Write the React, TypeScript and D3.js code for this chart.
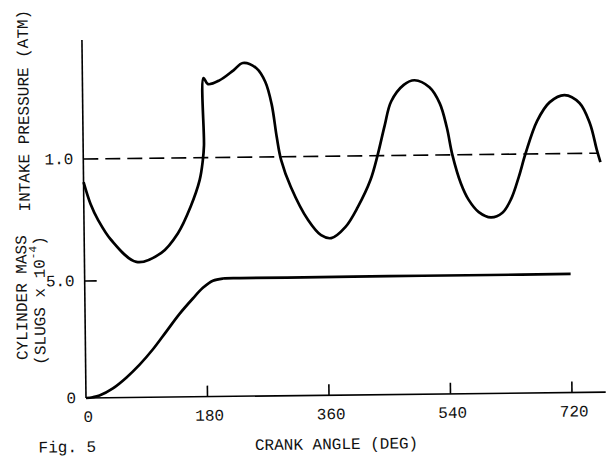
import React from "react";
import * as d3 from "d3";

// Intake pressure (ATM) vs crank angle (deg)
const pressureAngle = [0, 10, 21, 40, 77, 114, 139, 158, 172, 177, 179, 179.5, 186, 203, 224, 238, 258, 271, 280, 287, 293, 307, 332, 351, 366, 387, 406, 425, 436, 447, 457, 476, 492, 514, 529, 539, 547, 559, 570, 585, 603, 620, 633, 645, 655, 673, 692, 714, 736, 751, 761, 766];
const pressureValue = [0.923, 0.85, 0.796, 0.729, 0.655, 0.684, 0.749, 0.836, 0.925, 0.99, 1.04, 1.265, 1.245, 1.257, 1.29, 1.314, 1.296, 1.25, 1.175, 1.065, 0.99, 0.899, 0.788, 0.737, 0.727, 0.763, 0.83, 0.919, 1.001, 1.1, 1.18, 1.235, 1.25, 1.226, 1.172, 1.092, 0.998, 0.904, 0.85, 0.808, 0.79, 0.805, 0.85, 0.925, 1.0, 1.11, 1.172, 1.195, 1.168, 1.1, 1.01, 0.97];

// Cylinder mass (slugs x 10^-4) vs crank angle (deg)
const massAngle = [0, 10, 20, 40, 60, 80, 100, 120, 140, 160, 175, 190, 205, 230, 300, 450, 600, 720];
const massValue = [0, 0.03, 0.1, 0.4, 0.85, 1.4, 2.05, 2.8, 3.55, 4.2, 4.65, 4.95, 5.04, 5.05, 5.05, 5.06, 5.06, 5.07];

const referenceAngle = [0, 762];
const referencePressure = [1.0, 1.0];

const xTicks = [0, 180, 360, 540, 720];
const pressureTicks = [1.0];
const massTicks = [0, 5.0];

const FONT = "'Liberation Mono', 'DejaVu Sans Mono', monospace";

export default function App() {
  const W = 610;
  const H = 458;
  const x = d3.scaleLinear().domain([0, 720]).range([86, 572]);
  const yP = d3.scaleLinear().domain([0.5, 1.5]).range([309, 9]);
  const yM = d3.scaleLinear().domain([0, 5]).range([398, 281]);

  const pLine = d3
    .line<number>()
    .x((_, i) => x(pressureAngle[i]))
    .y((d) => yP(d))
    .curve(d3.curveCatmullRom.alpha(0.5));
  const mLine = d3
    .line<number>()
    .x((_, i) => x(massAngle[i]))
    .y((d) => yM(d))
    .curve(d3.curveCatmullRom.alpha(0.5));
  const refLine = d3
    .line<number>()
    .x((_, i) => x(referenceAngle[i]))
    .y((d) => yP(d));

  const x0 = x(0);
  const yBase = yM(0);
  const axisEnd = x(770);

  return (
    <svg
      width={W}
      height={H}
      style={{ position: "absolute", left: 0, top: 0, background: "#fff" }}
    >
      <rect x={0} y={0} width={W} height={H} fill="#fff" />
      <g transform={`rotate(-0.65 ${x0} ${yBase})`} fill="none" stroke="#000">
        {/* axes */}
        <line x1={x0} y1={40} x2={x0} y2={yBase} strokeWidth={1.6} />
        <line x1={x0} y1={yBase} x2={axisEnd} y2={yBase} strokeWidth={1.6} />
        {xTicks.slice(1).map((t) => (
          <line key={t} x1={x(t)} x2={x(t)} y1={yBase} y2={yBase - 11} strokeWidth={1.6} />
        ))}
        {massTicks.slice(1).map((t) => (
          <line key={t} x1={x0} x2={x0 + 12} y1={yM(t)} y2={yM(t)} strokeWidth={1.6} />
        ))}
        {/* reference 1.0 dashed */}
        <path d={refLine(referencePressure) || ""} strokeWidth={1.6} strokeDasharray="15 7" />
        {/* curves */}
        <path d={pLine(pressureValue) || ""} strokeWidth={2.7} strokeLinejoin="round" />
        <path d={mLine(massValue) || ""} strokeWidth={2.7} strokeLinejoin="round" />

        <g fill="#111" stroke="none" fontFamily={FONT} fontSize={16}>
          {xTicks.map((t) => (
            <text key={t} x={x(t) + 2} y={yBase + 24} textAnchor="middle">
              {t}
            </text>
          ))}
          {pressureTicks.map((t) => (
            <text key={t} x={x0 - 10} y={yP(t) + 5} textAnchor="end">
              {t.toFixed(1)}
            </text>
          ))}
          {massTicks.map((t) => (
            <text key={t} x={x0 - 10} y={yM(t) + 5} textAnchor="end">
              {t === 0 ? "0" : t.toFixed(1)}
            </text>
          ))}
        </g>
        <g fill="#111" stroke="none" fontFamily={FONT} fontSize={16}>
          <text transform="translate(32,110) rotate(-90)" textAnchor="middle">
            INTAKE PRESSURE (ATM)
          </text>
          <text transform="translate(28,297) rotate(-90)" textAnchor="middle">
            CYLINDER MASS
          </text>
          <text transform="translate(46,300) rotate(-90)" textAnchor="middle">
            (SLUGS x 10
            <tspan fontSize={11} dy={-8}>-4</tspan>
            <tspan dy={8}>)</tspan>
          </text>
          <text x={38} y={452}>Fig. 5</text>
          <text x={336} y={452} textAnchor="middle">
            CRANK ANGLE (DEG)
          </text>
        </g>
      </g>
    </svg>
  );
}
